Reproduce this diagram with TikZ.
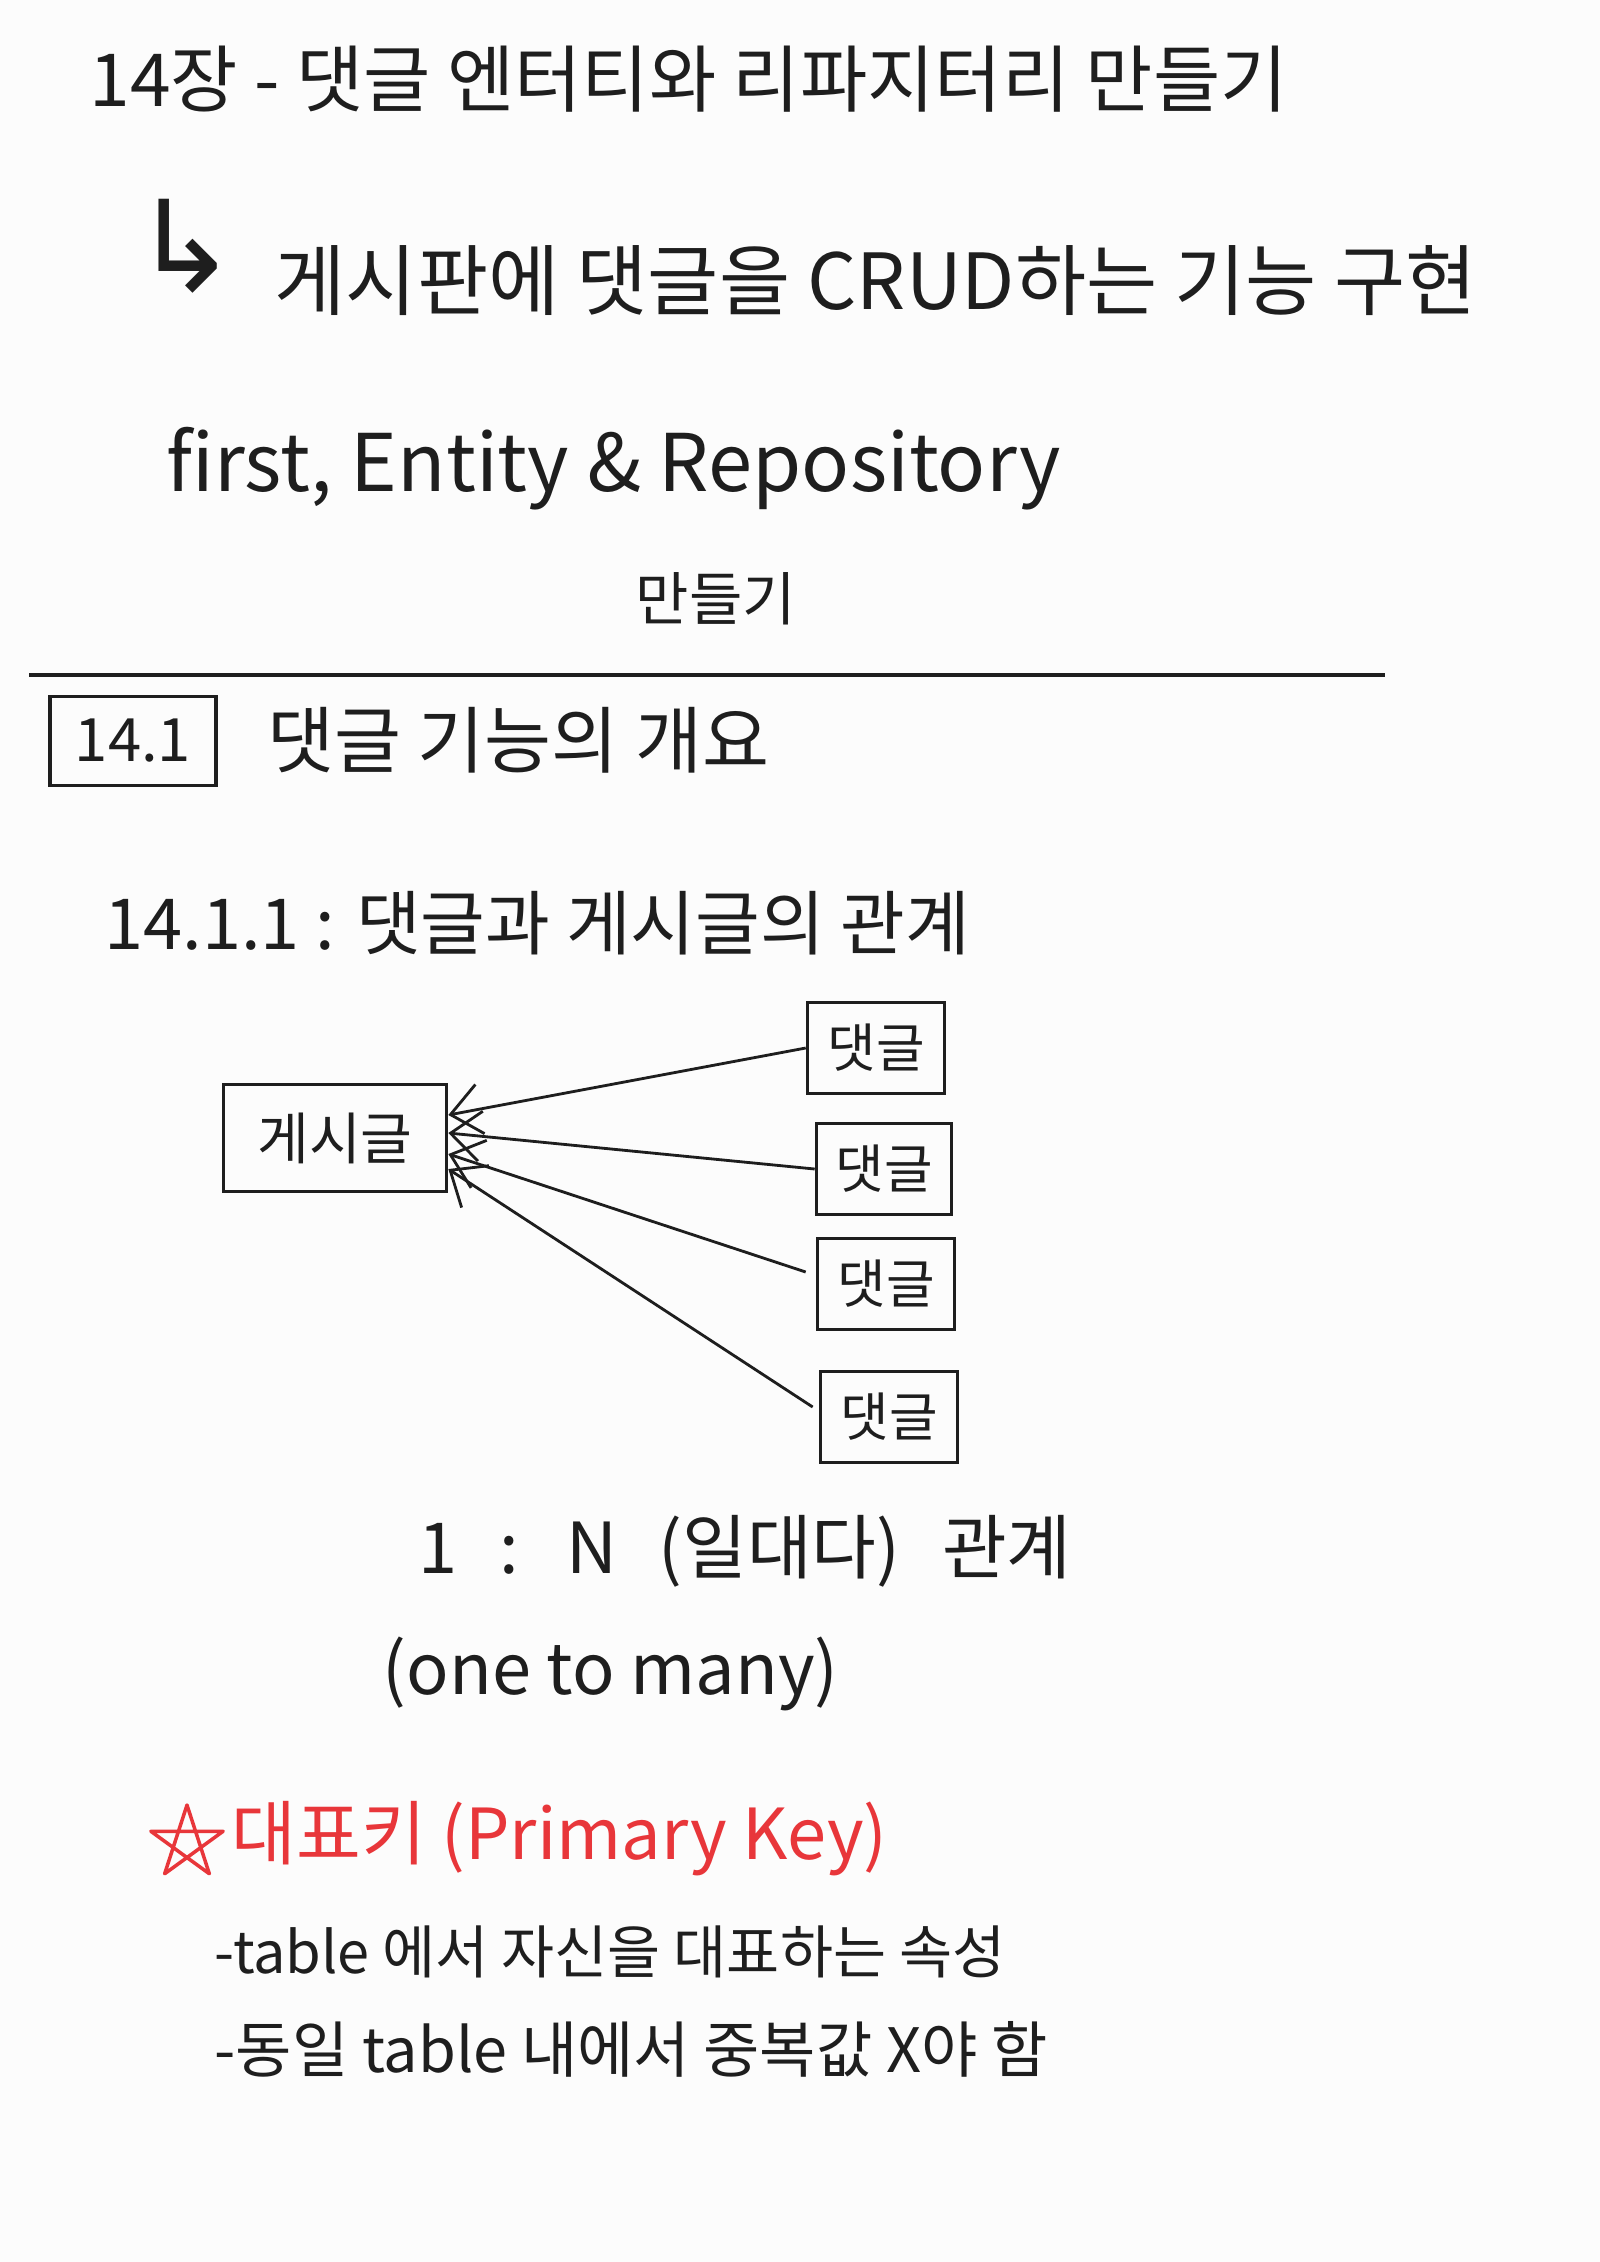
\documentclass[tikz,border=0pt]{standalone}
\usepackage{fontspec}
\setmainfont{Noto Sans CJK KR}
\newfontfamily\symfont{DejaVu Sans}
\usetikzlibrary{arrows.meta, positioning}
\tikzset{>={Straight Barb[length=3mm,width=5mm]}}
\definecolor{mypaper}{HTML}{FCFCFC}
\definecolor{myink}{HTML}{1E1E1E}
\definecolor{myred}{HTML}{E8363A}

\begin{document}
\begin{tikzpicture}[x=0.01cm, y=-0.01cm,
    txt/.style={anchor=west, inner sep=0pt, text=myink},
    box/.style={draw=myink, line width=1pt, inner sep=0pt, text=myink},
    link/.style={->, line width=0.8pt, myink}]
  \fill[mypaper] (0,0) rectangle (1600,2262);
  \useasboundingbox (0,0) rectangle (1600,2262);
  \node[txt, font=\fontsize{20.8}{25}\selectfont] (title) at (89,79) {14장 - 댓글 엔터티와 리파지터리 만들기};
  \node[txt, font=\symfont\fontsize{36}{40}\selectfont] (hook) at (132,246) {↳};
  \node[txt, font=\fontsize{22}{26}\selectfont] (goal) at (274,281) {게시판에 댓글을 CRUD하는 기능 구현};
  \node[txt, font=\fontsize{22.6}{27}\selectfont] (first) at (166,469) {first, Entity \& Repository};
  \node[txt, font=\fontsize{16.5}{20}\selectfont] (make) at (635,599) {만들기};
  \draw[myink, line width=1pt] (29,675) -- (1385,675);
  \node[box, minimum width=1.66cm, minimum height=0.89cm, font=\fontsize{17}{20}\selectfont] (sec) at (133,741) {14.1};
  \node[txt, font=\fontsize{20.7}{25}\selectfont] (overview) at (267,740) {댓글 기능의 개요};
  \node[txt, font=\fontsize{20}{24}\selectfont] (subsec) at (104,923) {14.1.1 : 댓글과 게시글의 관계};
  \node[box, minimum width=2.23cm, minimum height=1.07cm, font=\fontsize{16}{19}\selectfont] (post) at (335,1138) {게시글};
  \node[box, minimum width=1.37cm, minimum height=0.91cm, font=\fontsize{15}{18}\selectfont] (reply1) at (876,1048) {댓글};
  \node[box, minimum width=1.35cm, minimum height=0.91cm, font=\fontsize{15}{18}\selectfont] (reply2) at (884,1169) {댓글};
  \node[box, minimum width=1.37cm, minimum height=0.91cm, font=\fontsize{15}{18}\selectfont] (reply3) at (886,1284) {댓글};
  \node[box, minimum width=1.37cm, minimum height=0.91cm, font=\fontsize{15}{18}\selectfont] (reply4) at (889,1417) {댓글};
  \draw[link] (reply1.west) -- ([yshift=0.23cm]post.east);
  \draw[link] (reply2.west) -- ([yshift=0.05cm]post.east);
  \draw[link] ([xshift=-0.1cm,yshift=0.12cm]reply3.west) -- ([yshift=-0.16cm]post.east);
  \draw[link] ([xshift=-0.06cm,yshift=0.1cm]reply4.west) -- ([yshift=-0.31cm]post.east);
  \node[txt, font=\fontsize{20}{24}\selectfont] (ratio) at (418,1551) {1\hspace{0.26cm} : \hspace{0.26cm}N\hspace{0.26cm} (일대다)\hspace{0.26cm} 관계};
  \node[txt, font=\fontsize{20}{24}\selectfont] (many) at (382,1674) {(one to many)};
  \begin{scope}[shift={(187,1843)}]
    \draw[myred, line width=1pt, line join=round] (-90:38) -- (54:38) -- (198:38) -- (342:38) -- (126:38) -- cycle;
  \end{scope}
  \node[txt, text=myred, font=\fontsize{20}{24}\selectfont] (pk) at (231,1839) {대표키 (Primary Key)};
  \node[txt, font=\fontsize{16.4}{20}\selectfont] (pkdef) at (214,1952) {-table 에서 자신을 대표하는 속성};
  \node[txt, font=\fontsize{17.4}{21}\selectfont] (pkrule) at (214,2049) {-동일 table 내에서 중복값 X야 함};
\end{tikzpicture}
\end{document}
